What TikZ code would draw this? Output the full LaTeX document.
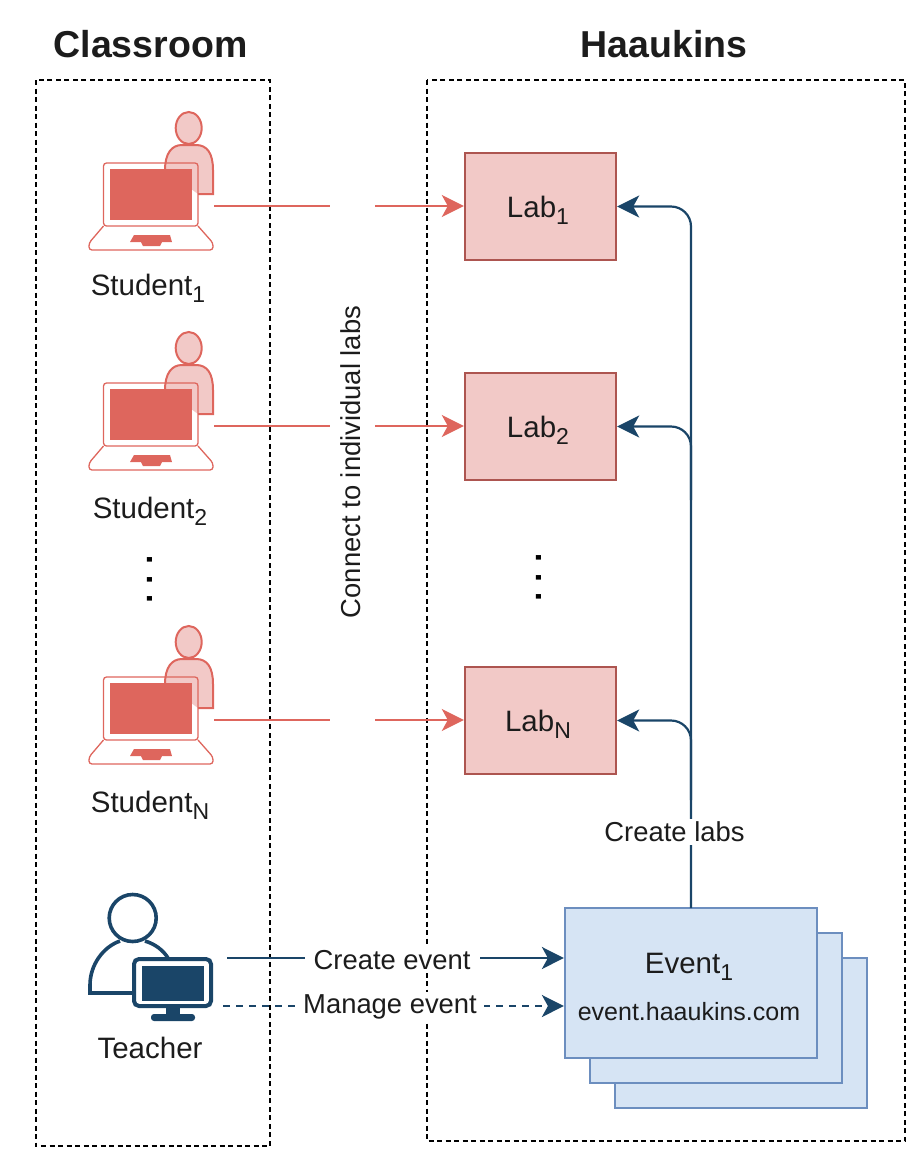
\documentclass[tikz,border=0pt]{standalone}
\usepackage{fontspec}
\setmainfont{Liberation Sans}
\usetikzlibrary{arrows.meta}
\definecolor{labred}{HTML}{DE665D}
\definecolor{labfill}{HTML}{F2C9C7}
\definecolor{labline}{HTML}{AD5550}
\definecolor{navy}{HTML}{1A4568}
\definecolor{evfill}{HTML}{D6E4F4}
\definecolor{evline}{HTML}{6C8EBF}
\definecolor{ink}{HTML}{1C1C1C}
\newcommand{\lowsub}[1]{\raisebox{-7pt}{\fontsize{23}{23}\selectfont #1}}
\tikzset{
  zone/.style={draw=black,line width=1.4pt,dash pattern=on 5pt off 3.5pt},
  labbox/.style={draw=labline,fill=labfill,line width=2.4pt,minimum width=151pt,minimum height=107pt,inner sep=0pt},
  evbox/.style={draw=evline,fill=evfill,line width=2.2pt,minimum width=252pt,minimum height=150pt,inner sep=0pt},
  tag/.style={font=\fontsize{29.5}{34}\selectfont,text=ink,inner sep=0pt},
  note/.style={font=\fontsize{27.4}{32}\selectfont,text=ink,inner sep=0pt},
  title/.style={font=\fontsize{37.5}{42}\selectfont\bfseries,text=ink,inner sep=0pt},
  redline/.style={draw=labred,line width=2pt},
  blueline/.style={draw=navy,line width=2.2pt},
  tip/.style={-{Stealth[length=22pt,width=22pt,inset=6pt]}},
  vdots/.style={font=\fontsize{48}{50}\selectfont,text=black,rotate=90,inner sep=0pt},
  maskline/.style={fill=white,inner xsep=9pt,inner ysep=3pt},
}
\begin{document}
\begin{tikzpicture}[x=1pt,y=-1pt]
    \useasboundingbox (0,0) rectangle (924,1163);

    \node[title] (classroom) at (150.5,44) {Classroom};
    \node[title] (haaukins) at (664,44) {Haaukins};
    \draw[zone] (36,80) rectangle (270,1146);
    \draw[zone] (427,80) rectangle (905,1141);

    % students and their labs
    \foreach \i/\y/\tagx/\tagy/\sub in {1/0/148/287/1,2/220/150/510/2,N/514/150/804/N} {
      \begin{scope}[yshift=-\y pt]
        \draw[draw=labred,fill=labfill,line width=2pt] (188.7,128) ellipse (13 and 16);
        \draw[draw=labred,fill=labfill,line width=2pt] (165,170) .. controls (165,153) and (172,145) .. (182,145)
          -- (196,145) .. controls (207,145) and (213,153) .. (213,170) -- (213,194) -- (198,194);
        \draw[draw=labred,line width=1.3pt,rounded corners=3pt] (103.5,163) rectangle (198,226);
        \fill[labred] (110,169) rectangle (192,220);
        \draw[draw=labred,line width=1.3pt,rounded corners=3pt] (103.5,226) -- (89,243) -- (89,250) -- (213,250) -- (213,243) -- (198,226);
        \fill[labred] (134,235) -- (170,235) -- (172,242) -- (162,242) -- (160,246) -- (143,246) -- (141,242) -- (130,242) -- cycle;
        \coordinate (stu\i) at (214,206);
        \coordinate (gapa\i) at (330,206);
        \coordinate (gapb\i) at (375,206);
        \node[labbox] (lab\i) at (540.5,206.5) {};
        \node[tag,anchor=base] (labtext\i) at (538,217) {Lab\lowsub{\sub}};
      \end{scope}
      \node[tag,anchor=base] (student\i) at (\tagx,\tagy+8) {Student\lowsub{\sub}};
      \draw[redline] (stu\i) -- (gapa\i);
      \draw[redline,tip] (gapb\i) -- (gapb\i -| lab\i.west);
    }

    \node[note,rotate=90] (connect) at (351,462) {Connect to individual labs};
    \node[vdots] (dotsa) at (149.5,579.5) {.\kern6pt.\kern6pt.};
    \node[vdots] (dotsb) at (538.5,577.5) {.\kern6pt.\kern6pt.};

    % event stack
    \node[evbox] (ev3) at (741,1033) {};
    \node[evbox] (ev2) at (716,1008) {};
    \node[evbox] (ev1) at (691,983) {};
    \node[tag,anchor=base] (evname) at (689,973) {Event\lowsub{1}};
    \node[note,font=\fontsize{25}{30}\selectfont] (evurl) at (689,1012) {event.haaukins.com};

    % labs are made from the event
    \coordinate (trunk) at (691,908);
    \draw[blueline,tip,rounded corners=20pt] (trunk) -- (691,206.5) -- (lab1.east);
    \draw[blueline,tip,rounded corners=20pt] (691,500) -- (691,426.5) -- (lab2.east);
    \draw[blueline,tip,rounded corners=20pt] (691,800) -- (691,720.5) -- (labN.east);
    \node[note,maskline] (createlabs) at (674.5,832) {Create labs};

    % teacher
    \draw[navy,line width=3.6pt] (132.7,918) circle (23.5);
    \draw[navy,line width=3.6pt] (134,993) -- (90,993) -- (90,985) .. controls (90,965) and (103,947) .. (120,941);
    \draw[navy,line width=3.6pt] (145,941) .. controls (155,944) and (163,950) .. (168,958);
    \draw[navy,line width=4pt,fill=white,rounded corners=5pt] (134,959) rectangle (211,1006);
    \fill[navy] (142,966) rectangle (204,1001);
    \fill[navy] (166,1007) rectangle (180,1016);
    \fill[navy,rounded corners=3pt] (151,1014) rectangle (195,1021);
    \node[tag] (teacher) at (150,1048) {Teacher};
    \coordinate (tcha) at (227,958);
    \coordinate (tchb) at (223,1006);
    \coordinate (evna) at (ev1.west |- tcha);
    \coordinate (evnb) at (ev1.west |- tchb);
    \draw[blueline,tip] (tcha) -- (evna) node[pos=0.49,note,maskline,yshift=-2pt] (createev) {Create event};
    \draw[blueline,tip,dash pattern=on 7pt off 6pt] (tchb) -- (evnb) node[pos=0.49,note,maskline,inner xsep=7pt,yshift=-1pt] (manageev) {Manage event};
\end{tikzpicture}
\end{document}
